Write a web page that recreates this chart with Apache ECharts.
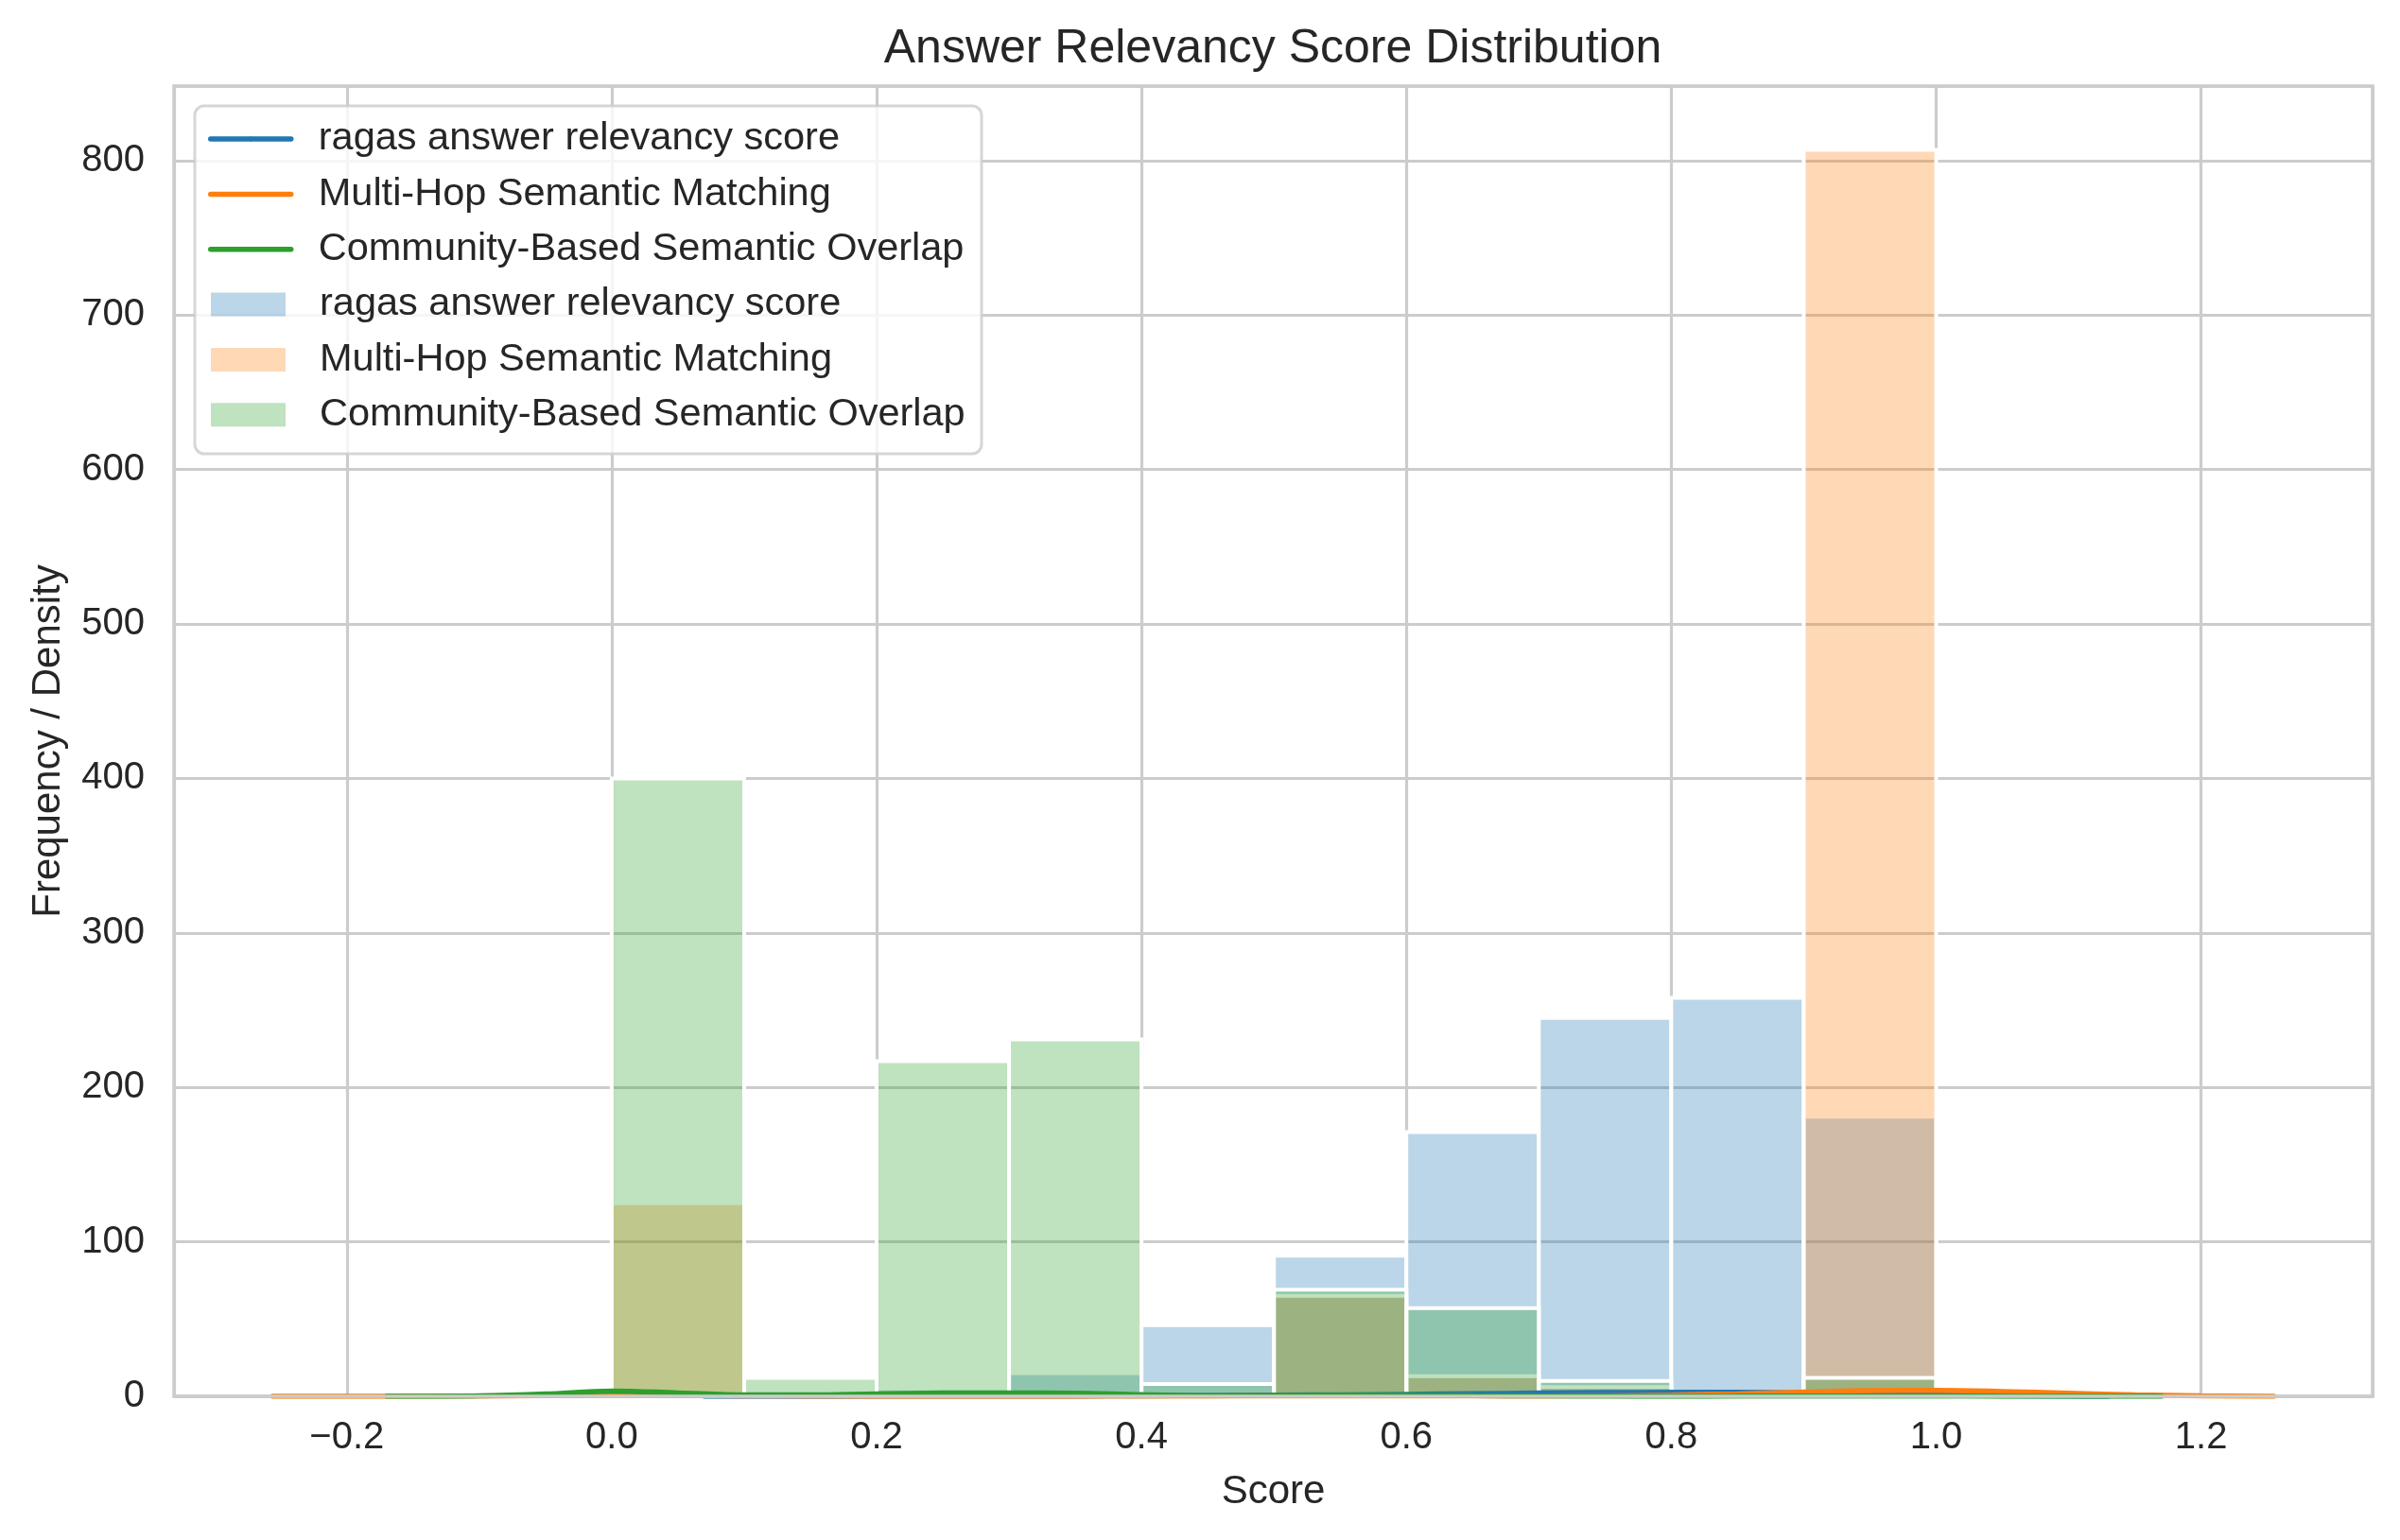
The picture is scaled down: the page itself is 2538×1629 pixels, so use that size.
<!DOCTYPE html>
<html>
<head>
<meta charset="utf-8">
<script src="https://cdn.jsdelivr.net/npm/echarts@6/dist/echarts.min.js"></script>
<style>
html,body{margin:0;padding:0;background:#ffffff;}
#chart{width:2538px;height:1629px;}
</style>
</head>
<body>
<div id="chart"></div>
<script>
// ---------------- data ----------------
const seriesNames = ['ragas answer relevancy score', 'Multi-Hop Semantic Matching', 'Community-Based Semantic Overlap'];
const binEdges = [0.0, 0.1, 0.2, 0.3, 0.4, 0.5, 0.6, 0.7, 0.8, 0.9, 1.0];
// histogram counts per bin
const ragasCounts     = [0, 0, 5, 15, 46, 91, 171, 245, 258, 181];
const multiHopCounts  = [125, 0, 0, 0, 0, 65, 13, 6, 2, 807];
const communityCounts = [400, 12, 217, 231, 8, 69, 57, 10, 1, 12];
// KDE density curves
const ragasKdeX = [0.07, 0.1, 0.15, 0.2, 0.25, 0.3, 0.35, 0.4, 0.45, 0.5, 0.55, 0.6, 0.65, 0.7, 0.75, 0.8, 0.85, 0.9, 0.95, 1.0, 1.05, 1.1, 1.13];
const ragasKdeY = [0.0, 0.02, 0.05, 0.1, 0.12, 0.15, 0.2, 0.35, 0.5, 0.75, 0.95, 1.3, 1.7, 2.1, 2.4, 2.55, 2.55, 2.2, 1.7, 1.0, 0.45, 0.12, 0.02];
const multiHopKdeX = [-0.256, -0.2, -0.15, -0.1, -0.05, 0.0, 0.05, 0.1, 0.15, 0.2, 0.25, 0.3, 0.35, 0.4, 0.45, 0.5, 0.55, 0.6, 0.65, 0.7, 0.75, 0.8, 0.85, 0.9, 0.95, 1.0, 1.05, 1.1, 1.15, 1.2, 1.255];
const multiHopKdeY = [0.0, 0.02, 0.08, 0.2, 0.4, 0.55, 0.5, 0.33, 0.15, 0.06, 0.03, 0.03, 0.06, 0.13, 0.22, 0.3, 0.33, 0.3, 0.24, 0.22, 0.35, 0.8, 1.6, 2.7, 3.7, 3.8, 3.1, 2.0, 0.95, 0.3, 0.05];
const communityKdeX = [-0.17, -0.15, -0.1, -0.05, 0.0, 0.05, 0.1, 0.15, 0.2, 0.25, 0.3, 0.35, 0.4, 0.45, 0.5, 0.55, 0.6, 0.65, 0.7, 0.75, 0.8, 0.85, 0.9, 0.95, 1.0, 1.05, 1.1, 1.17];
const communityKdeY = [0.0, 0.03, 0.3, 1.5, 3.4, 2.2, 0.9, 0.9, 1.6, 2.1, 2.2, 2.0, 1.0, 0.4, 0.55, 0.75, 0.7, 0.5, 0.25, 0.1, 0.05, 0.08, 0.15, 0.15, 0.12, 0.06, 0.02, 0.0];

// ---------------- styling ----------------
const FONT = "'Liberation Sans', Arial, Helvetica, sans-serif";
const TEXT = '#262626';
const GRIDC = '#cccccc';
const lineColors = ['#1f77b4', '#ff7f0e', '#2ca02c'];
const fillColors = ['rgba(31,119,180,0.3)', 'rgba(255,127,14,0.3)', 'rgba(44,160,44,0.3)'];
const HIST_PREFIX = 'hist: ';

function histData(counts) {
  return counts.map((c, i) => [binEdges[i], binEdges[i + 1], c]);
}
function kdeData(xs, ys) {
  return xs.map((x, i) => [x, ys[i]]);
}
function makeRender(fill) {
  return function (params, api) {
    const x0 = api.value(0), x1 = api.value(1), y = api.value(2);
    const pTop = api.coord([x0, y]);
    const pBot = api.coord([x1, 0]);
    return {
      type: 'rect',
      shape: { x: pTop[0], y: pTop[1], width: pBot[0] - pTop[0], height: pBot[1] - pTop[1] },
      style: { fill: fill, stroke: '#ffffff', lineWidth: 4 }
    };
  };
}

const allCounts = [ragasCounts, multiHopCounts, communityCounts];
const allKde = [[ragasKdeX, ragasKdeY], [multiHopKdeX, multiHopKdeY], [communityKdeX, communityKdeY]];

const series = [];
allCounts.forEach((counts, k) => {
  series.push({
    type: 'custom',
    name: HIST_PREFIX + seriesNames[k],
    xAxisIndex: 0, yAxisIndex: 0,
    renderItem: makeRender(fillColors[k]),
    encode: { x: [0, 1], y: 2 },
    data: histData(counts),
    itemStyle: { color: fillColors[k] },
    clip: true,
    z: 2
  });
});
allKde.forEach((kd, k) => {
  series.push({
    type: 'line',
    name: seriesNames[k],
    xAxisIndex: 0, yAxisIndex: 0,
    data: kdeData(kd[0], kd[1]),
    symbol: 'none',
    smooth: 0.35,
    lineStyle: { color: lineColors[k], width: 5.5, cap: 'round' },
    itemStyle: { color: lineColors[k] },
    z: 3
  });
});

function xFmt(v) {
  const r = Math.round(v * 5) / 5;
  if (Math.abs(v - r) > 1e-6) return '';
  const s = Math.abs(r).toFixed(1);
  return r < -1e-9 ? '\u2212' + s : s;
}
function yFmt(v) {
  if (Math.abs(v - Math.round(v / 100) * 100) > 1e-6) return '';
  return String(Math.round(v));
}

const option = {
  backgroundColor: '#ffffff',
  animation: false,
  textStyle: { fontFamily: FONT },
  grid: {
    left: 184, top: 91, right: 29, bottom: 152,
    show: true, borderColor: GRIDC, borderWidth: 3.5, backgroundColor: 'transparent',
    containLabel: false, outerBoundsMode: 'none'
  },
  xAxis: [{
    type: 'value', min: -0.3305, max: 1.3295, splitNumber: 8,
    axisLine: { show: false }, axisTick: { show: false },
    axisLabel: { formatter: xFmt, color: TEXT, fontSize: 40, fontFamily: FONT, margin: 24, showMinLabel: true, showMaxLabel: true, hideOverlap: false },
    splitLine: { show: true, lineStyle: { color: GRIDC, width: 3.2 } },
    name: 'Score', nameLocation: 'middle', nameGap: 80,
    nameTextStyle: { color: TEXT, fontSize: 42, fontFamily: FONT }
  }, {
    type: 'value', min: -0.3305, max: 1.3295, position: 'bottom', z: 10,
    axisLine: { show: true, onZero: false, lineStyle: { color: GRIDC, width: 3.5 } },
    axisTick: { show: false }, axisLabel: { show: false }, splitLine: { show: false }
  }],
  yAxis: [{
    type: 'value', min: 0, max: 848.3, interval: 100,
    axisLine: { show: false }, axisTick: { show: false },
    axisLabel: { formatter: yFmt, color: TEXT, fontSize: 40, fontFamily: FONT, margin: 31 },
    splitLine: { show: true, lineStyle: { color: GRIDC, width: 3.2 } },
    name: 'Frequency / Density', nameLocation: 'middle', nameGap: 112, nameRotate: 90,
    nameTextStyle: { color: TEXT, fontSize: 42, fontFamily: FONT }
  }],
  graphic: [
    {
      type: 'text', x: 1346, y: 52, z: 10,
      style: { text: 'Answer Relevancy Score Distribution', font: '50px ' + FONT, fill: TEXT, textAlign: 'center', textVerticalAlign: 'middle' }
    },
    {
      type: 'rect', z: 3,
      shape: { x: 206, y: 112, width: 832, height: 368, r: 10 },
      style: { fill: 'rgba(255,255,255,0.8)', stroke: 'rgba(204,204,204,0.8)', lineWidth: 3 }
    }
  ],
  legend: [{
    orient: 'vertical', left: 220, top: 124, padding: 0,
    itemWidth: 85, itemHeight: 6, itemGap: 12.4,
    selectedMode: false, z: 5,
    lineStyle: { width: 5.5, cap: 'round' },
    data: seriesNames.slice(),
    textStyle: { color: TEXT, fontSize: 41.5, fontFamily: FONT, lineHeight: 46, padding: [0, 0, 0, 24] }
  }, {
    orient: 'vertical', left: 223, top: 299, padding: 0,
    itemWidth: 79, itemHeight: 25, itemGap: 12.4,
    selectedMode: false, z: 5, icon: 'rect',
    data: seriesNames.map(n => HIST_PREFIX + n),
    formatter: function (name) { return name.replace(HIST_PREFIX, ''); },
    textStyle: { color: TEXT, fontSize: 41.5, fontFamily: FONT, lineHeight: 46, padding: [0, 0, 0, 31] }
  }],
  series: series
};

const chart = echarts.init(document.getElementById('chart'), null, { renderer: 'canvas', width: 2538, height: 1629 });
chart.setOption(option);
</script>
</body>
</html>
